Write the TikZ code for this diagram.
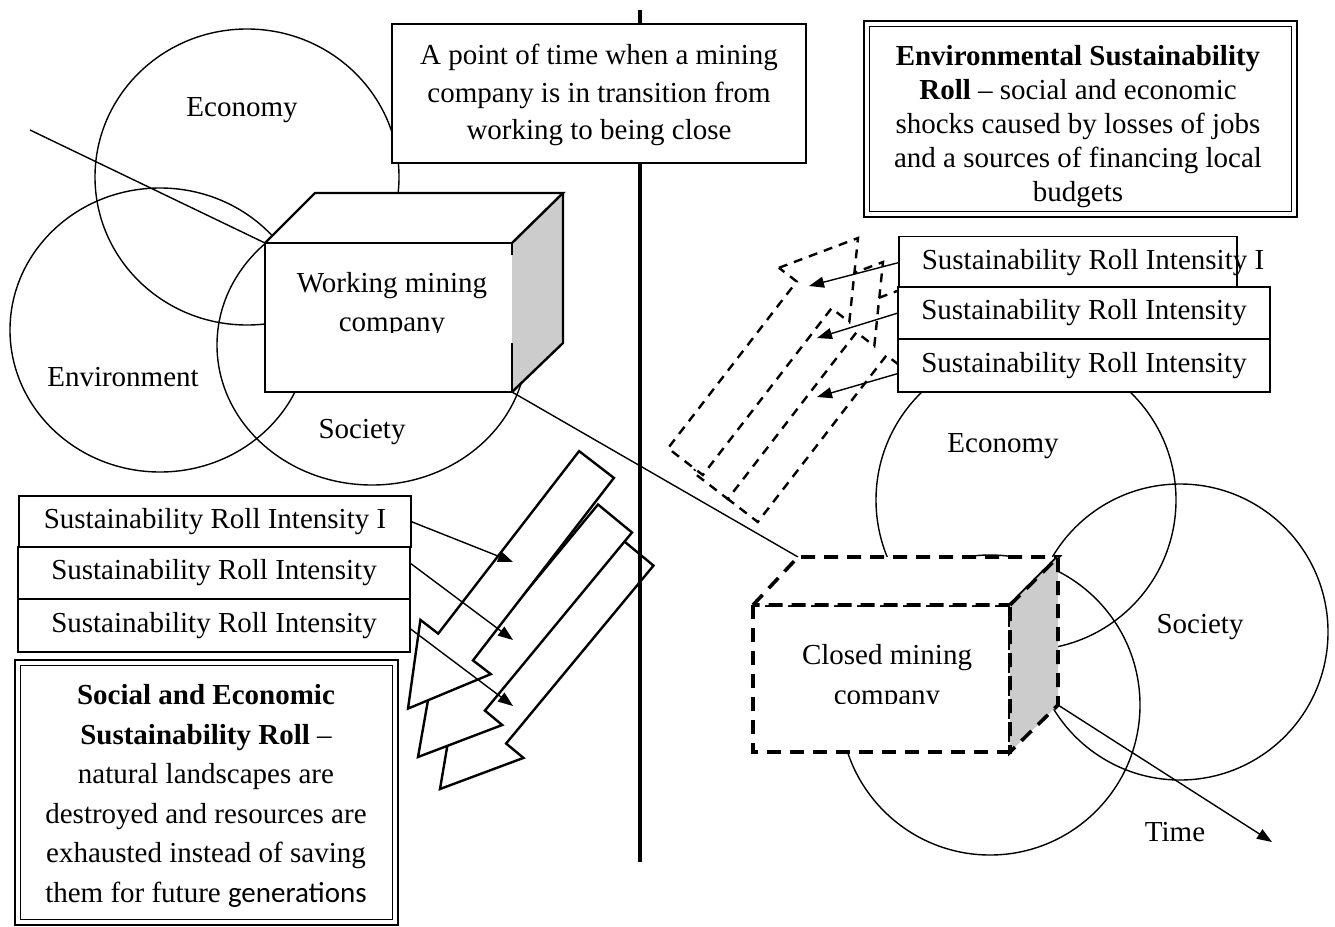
\documentclass[tikz,border=0pt]{standalone}
\usepackage{fontspec}
\setmainfont{Liberation Serif}
\newfontfamily\calibrifont{Carlito}
\usetikzlibrary{arrows.meta,calc}
\begin{document}
\begin{tikzpicture}[x=1pt,y=-1pt,
  every node/.style={inner sep=0pt, outer sep=0pt},
  txt/.style={font=\fontsize{29}{34}\selectfont, align=center},
  boxframe/.style={draw, fill=white, line width=1.4pt},
  circ/.style={line width=1.4pt},
  cubeline/.style={line width=2.4pt, line join=miter},
  dcube/.style={line width=3.6pt, dash pattern=on 14pt off 9pt},
  barrow/.style={draw, fill=white, line width=2.4pt, line join=miter},
  darrow/.style={draw, fill=white, line width=2.4pt, dash pattern=on 9pt off 7pt},
  conn/.style={line width=1.4pt, -{Triangle[length=15pt,width=11pt]}},
  vline/.style={line width=4pt}
]
\useasboundingbox (0,0) rectangle (1335,926);

% ---------- left circles ----------
\draw[circ] (247,177) ellipse [x radius=152pt, y radius=148pt];
\draw[circ] (160,330) ellipse [x radius=150pt, y radius=142pt];
\draw[circ] (372,345) ellipse [x radius=155pt, y radius=140pt];
\node[txt] (lecon) at (242,110) {Economy};
\node[txt] (lenv) at (123,377) {Environment};
\node[txt] (lsoc) at (362,432) {Society};

% ---------- working cube ----------
\coordinate (wTL) at (265,243);
\coordinate (wBR) at (512,392);
\coordinate (lstart) at (30,130);
\draw[circ] (lstart) -- (wTL);
\fill[white] (265,243) rectangle (512,392);
\fill[white] (265,243)--(315,193)--(563,193)--(512,243)--cycle;
\fill[black!20] (512,243)--(563,193)--(563,343)--(512,392)--cycle;
\draw[cubeline] (512,255)--(512,243)--(265,243)--(265,392)--(512,392)--(512,343);
\draw[cubeline] (265,243)--(315,193)--(563,193)--(512,243);
\draw[cubeline] (563,193)--(563,343)--(512,392);
\begin{scope}
\clip (265,243) rectangle (512,332);
\node[txt, font=\fontsize{29}{39}\selectfont] (wtext) at (392,305) {Working mining\\company};
\end{scope}

% ---------- right circles ----------
\draw[circ] (1026,500) circle [radius=150pt];
\draw[circ] (1180,632) circle [radius=148pt];
\draw[circ] (990,705) circle [radius=150pt];
\node[txt] (recon) at (1003,446) {Economy};
\node[txt] (rsoc) at (1200,627) {Society};

% ---------- closed cube ----------
\coordinate (cTL) at (798,557);
\coordinate (cBR) at (1058,705);
\draw[circ] (wBR) -- (cTL);
\draw[dcube, fill=white] (753,605) rectangle (1010,752);
\draw[dcube, fill=white] (753,605)--(798,557)--(1058,557)--(1010,605)--cycle;
\draw[dcube, fill=black!20] (1010,605)--(1058,557)--(1058,705)--(1010,752)--cycle;
\begin{scope}
\clip (753,605) rectangle (1010,703);
\node[txt, font=\fontsize{29}{40}\selectfont] (ctext) at (887,678) {Closed mining\\company};
\end{scope}
\coordinate (tend) at (1272,842);
\draw[conn] (cBR) -- (tend);
\node[txt] (time) at (1175,832) {Time};

% ---------- dashed arrows (right) ----------
\def\darrowpath{(778.9,267.8)--(858,238)--(849.3,322.0)--(831.5,308.3)--(702.8,475.0)--(668.0,448.2)--(796.7,281.5)--cycle}
\draw[darrow, shift={(55,47)}] \darrowpath;
\draw[darrow, shift={(25,24)}] \darrowpath;
\draw[darrow] \darrowpath;

% ---------- right intensity boxes ----------
\node[boxframe, minimum width=338pt, minimum height=52pt] (r1) at (1068,262.5) {};
\node[txt] (r1t) at (1093,262.5) {Sustainability Roll Intensity I};
\node[boxframe, txt, minimum width=372pt, minimum height=52pt] (r2) at (1084,313) {Sustainability Roll Intensity};
\node[boxframe, txt, minimum width=372pt, minimum height=53pt] (r3) at (1084,365.5) {Sustainability Roll Intensity};
\coordinate (ra1) at (809,286);
\coordinate (ra2) at (817,338);
\coordinate (ra3) at (817,397);
\draw[conn] (r1.west) -- (ra1);
\draw[conn] (r2.west) -- (ra2);
\draw[conn] ($(r3.west)+(0,8)$) -- (ra3);

% ---------- block arrows (left) ----------
\draw[barrow] (619.7,537.6)--(653.5,565.6)--(506.1,743.5)--(523.5,757.9)--(440,789)--(454.9,701.1)--(472.3,715.5)--cycle;
\draw[barrow] (598.0,504.5)--(632.0,532.5)--(484.9,710.6)--(502.2,725.0)--(418,757)--(433.6,668.3)--(450.9,682.6)--cycle;
\draw[barrow] (579.1,451.1)--(613.9,477.9)--(473.0,660.4)--(490.8,674.1)--(408.0,708.6)--(420.4,619.9)--(438.2,633.6)--cycle;

% ---------- vertical time line ----------
\coordinate (vtop) at (640,10);
\coordinate (vbot) at (640,862);
\draw[vline] (vtop) -- (vbot);

% ---------- top centre box ----------
\node[boxframe, minimum width=414pt, minimum height=139pt] (tbox) at (599,93.5) {};
\node[txt, font=\fontsize{29}{37.5}\selectfont] (ttext) at (599,95) {A point of time when a mining\\company is in transition from\\working to being close};

% ---------- left intensity boxes ----------
\node[boxframe, txt, minimum width=392pt, minimum height=51pt] (l1) at (215,521.5) {Sustainability Roll Intensity I};
\node[boxframe, txt, minimum width=392pt, minimum height=52pt] (l2) at (214,573) {Sustainability Roll Intensity};
\node[boxframe, txt, minimum width=392pt, minimum height=53pt] (l3) at (214,625.5) {Sustainability Roll Intensity};
\coordinate (la1) at (513,562);
\coordinate (la2) at (513,640);
\coordinate (la3) at (513,706);
\draw[conn] (l1.east) -- (la1);
\draw[conn] ($(l2.east)+(0,-10)$) -- (la2);
\draw[conn] ($(l3.east)+(0,3)$) -- (la3);

% ---------- double framed boxes ----------
\node[draw, fill=white, line width=2.6pt, minimum width=383pt, minimum height=265pt] (sebox) at (206.5,792.5) {};
\draw[line width=1.2pt] ($(sebox.north west)+(5.5,5.5)$) rectangle ($(sebox.south east)+(-5.5,-5.5)$);
\node[txt, font=\fontsize{29}{39.6}\selectfont] (setext) at (206,796) {\textbf{Social and Economic}\\\textbf{Sustainability Roll} –\\natural landscapes are\\destroyed and resources are\\exhausted instead of saving\\them for future {\calibrifont generations}};

\node[draw, fill=white, line width=2.6pt, minimum width=433pt, minimum height=196pt] (envbox) at (1080.5,119) {};
\draw[line width=1.2pt] ($(envbox.north west)+(5.5,5.5)$) rectangle ($(envbox.south east)+(-5.5,-5.5)$);
\node[txt, font=\fontsize{29}{34}\selectfont] (envtext) at (1078,127) {\textbf{Environmental Sustainability}\\\textbf{Roll} – social and economic\\shocks caused by losses of jobs\\and a sources of financing local\\budgets};

\end{tikzpicture}
\end{document}
